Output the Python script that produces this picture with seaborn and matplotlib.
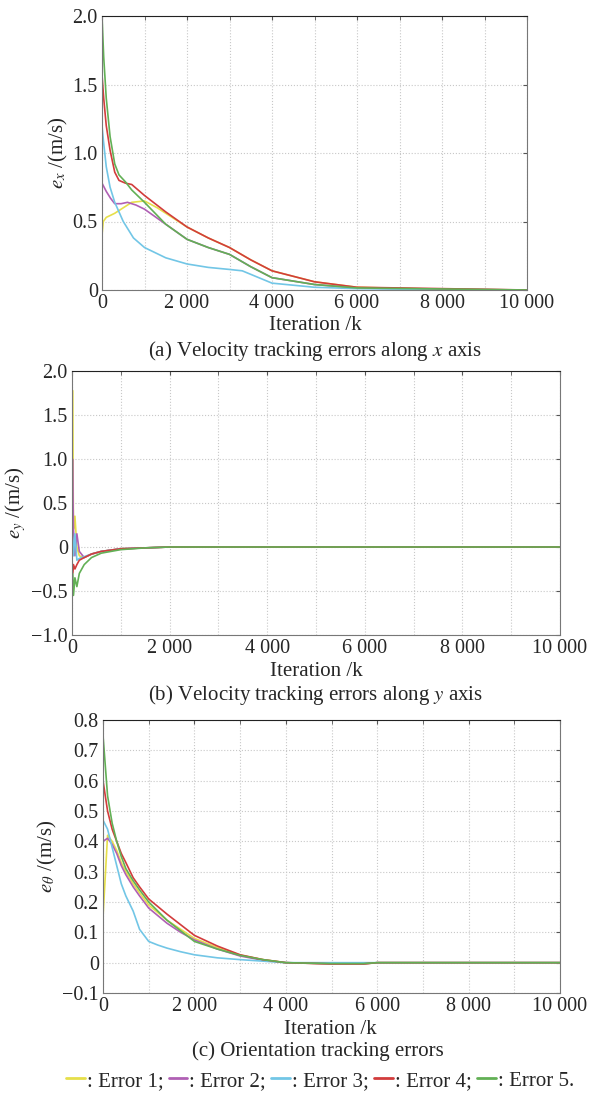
import matplotlib
matplotlib.use("Agg")
import matplotlib.pyplot as plt
import seaborn as sns
import pandas as pd
from matplotlib.lines import Line2D
from matplotlib.ticker import MultipleLocator, FuncFormatter

ERRORS = ["Error 1", "Error 2", "Error 3", "Error 4", "Error 5"]
COLORS = ["#e6df4a", "#b060b4", "#72c6e6", "#d23c3c", "#62b055"]

# (a) velocity error along x
ax_x = {
    "Error 1": [0, 30, 100, 300, 500, 700, 1000, 1300, 1600, 2000, 2500, 3000, 3500, 4000, 5000, 6000, 8000, 10000],
    "Error 2": [0, 100, 200, 300, 450, 600, 800, 1000, 1500, 2000, 2500, 3000, 3500, 4000, 5000, 6000, 8000, 10000],
    "Error 3": [0, 30, 100, 190, 300, 500, 740, 1000, 1500, 2000, 2500, 3000, 3300, 4000, 5000, 6000, 8000, 10000],
    "Error 4": [0, 40, 100, 190, 300, 400, 550, 700, 1000, 1500, 2000, 2500, 3000, 3500, 4000, 5000, 6000, 10000],
    "Error 5": [0, 40, 100, 190, 300, 400, 550, 700, 1000, 1500, 2000, 2500, 3000, 3500, 4000, 5000, 6000, 10000],
}
ay = {
    "Error 1": [0.40, 0.50, 0.53, 0.56, 0.60, 0.64, 0.65, 0.60, 0.54, 0.46, 0.38, 0.31, 0.22, 0.14, 0.06, 0.02, 0.005, 0.0],
    "Error 2": [0.78, 0.72, 0.67, 0.63, 0.63, 0.64, 0.62, 0.59, 0.48, 0.37, 0.31, 0.26, 0.17, 0.09, 0.04, 0.015, 0.005, 0.0],
    "Error 3": [1.20, 1.10, 0.90, 0.75, 0.64, 0.50, 0.38, 0.31, 0.235, 0.19, 0.165, 0.15, 0.14, 0.05, 0.02, 0.01, 0.003, 0.0],
    "Error 4": [1.57, 1.40, 1.20, 1.02, 0.86, 0.80, 0.78, 0.77, 0.69, 0.57, 0.46, 0.38, 0.31, 0.22, 0.14, 0.06, 0.02, 0.0],
    "Error 5": [2.00, 1.70, 1.40, 1.12, 0.92, 0.84, 0.79, 0.73, 0.64, 0.48, 0.37, 0.31, 0.26, 0.17, 0.09, 0.04, 0.015, 0.0],
}

# (b) velocity error along y
bx = [0, 10, 30, 60, 100, 150, 250, 400, 600, 1000, 1500, 2000, 10000]
by = {
    "Error 1": [0.0, 1.78, 0.20, 0.35, 0.0, -0.10, -0.12, -0.08, -0.05, -0.02, -0.01, 0.0, 0.0],
    "Error 2": [0.30, 1.00, 0.20, -0.10, 0.15, -0.05, -0.12, -0.08, -0.05, -0.02, -0.01, 0.0, 0.0],
    "Error 3": [0.20, 0.10, -0.10, 0.15, -0.15, -0.13, -0.11, -0.08, -0.05, -0.02, -0.01, 0.0, 0.0],
    "Error 4": [-0.10, -0.30, -0.20, -0.25, -0.20, -0.15, -0.12, -0.08, -0.05, -0.02, -0.01, 0.0, 0.0],
    "Error 5": [-0.70, -0.30, -0.55, -0.35, -0.45, -0.30, -0.20, -0.12, -0.07, -0.03, -0.01, 0.0, 0.0],
}

# (c) orientation error
cx = [0, 100, 200, 300, 400, 500, 660, 800, 1000, 1200, 1400, 1700, 2000, 2500, 3000, 3500, 4000, 5000, 5700, 6000, 10000]
cy = {
    "Error 1": [0.15, 0.42, 0.40, 0.37, 0.33, 0.30, 0.26, 0.23, 0.19, 0.165, 0.14, 0.11, 0.08, 0.05, 0.025, 0.01, 0.0, -0.004, -0.004, 0.0, 0.0],
    "Error 2": [0.40, 0.41, 0.39, 0.36, 0.32, 0.29, 0.25, 0.22, 0.18, 0.155, 0.13, 0.10, 0.075, 0.045, 0.022, 0.008, 0.0, -0.004, -0.004, 0.0, 0.0],
    "Error 3": [0.47, 0.44, 0.38, 0.32, 0.26, 0.22, 0.17, 0.11, 0.07, 0.058, 0.048, 0.036, 0.026, 0.016, 0.01, 0.005, 0.0, 0.0, 0.0, 0.0, 0.0],
    "Error 4": [0.60, 0.50, 0.44, 0.40, 0.36, 0.33, 0.28, 0.25, 0.21, 0.185, 0.16, 0.125, 0.09, 0.055, 0.026, 0.01, 0.0, -0.004, -0.004, 0.0, 0.0],
    "Error 5": [0.75, 0.55, 0.46, 0.40, 0.35, 0.31, 0.27, 0.24, 0.20, 0.17, 0.14, 0.105, 0.07, 0.045, 0.024, 0.01, 0.0, -0.003, -0.003, 0.0, 0.0],
}


def to_frame(xs, ys):
    rows = []
    for name in ERRORS:
        xv = xs[name] if isinstance(xs, dict) else xs
        for x, y in zip(xv, ys[name]):
            rows.append({"k": x, "e": y, "err": name})
    return pd.DataFrame(rows)


def fmt_num(v, pos):
    if abs(v) < 1e-9:
        return "0"
    return f"{int(v):,}".replace(",", " ")


def fmt_y(v, pos):
    if abs(v) < 1e-9:
        return "0"
    return f"{v:.1f}".replace("-", "\u2212")


sns.set_style("white")
plt.rcParams['font.family'] = ['Liberation Serif', 'DejaVu Serif']
plt.rcParams['mathtext.fontset'] = 'stix'

W, H = 605, 1096
fig = plt.figure(figsize=(W / 100, H / 100), dpi=100)


def box(l, r, t, b):
    return [l / W, 1 - b / H, (r - l) / W, (b - t) / H]


panels = [
    (box(102, 527, 16, 290), ax_x, ay, (0, 2.0), 0.5, r"$e_x$ /(m/s)",
     (315, 325), (315, 351), r"(a) Velocity tracking errors along $x$ axis"),
    (box(72, 560, 371, 635), bx, by, (-1.0, 2.0), 0.5, r"$e_y$ /(m/s)",
     (316, 672), (316, 695), r"(b) Velocity tracking errors along $y$ axis"),
    (box(103, 560, 720, 993), cx, cy, (-0.1, 0.8), 0.1, r"$e_\theta$ /(m/s)",
     (330, 1030), (318, 1051), "(c) Orientation tracking errors"),
]

palette = dict(zip(ERRORS, COLORS))
for rect, xs, ys, ylim, ystep, ylab, xl_pos, cap_pos, cap in panels:
    ax = fig.add_axes(rect)
    df = to_frame(xs, ys)
    sns.lineplot(data=df, x="k", y="e", hue="err", palette=palette, estimator=None,
                 sort=False, lw=1.2, legend=False, ax=ax)
    ax.set_xlim(0, 10000)
    ax.set_ylim(*ylim)
    ax.xaxis.set_major_locator(MultipleLocator(2000))
    ax.xaxis.set_minor_locator(MultipleLocator(1000))
    ax.yaxis.set_major_locator(MultipleLocator(ystep))
    ax.xaxis.set_major_formatter(FuncFormatter(fmt_num))
    ax.yaxis.set_major_formatter(FuncFormatter(fmt_y))
    ax.grid(which="both", axis="x", color="#c8c8c8", ls=":", lw=0.8)
    ax.grid(which="major", axis="y", color="#c8c8c8", ls=":", lw=0.8)
    ax.tick_params(which="both", direction="in", top=True, right=True, length=3,
                   labelsize=14.5, pad=3, color="#555555")
    for s in ax.spines.values():
        s.set_color("#777777")
        s.set_linewidth(0.8)
    ax.spines["top"].set_color("#222222")
    ax.set_xlabel("")
    ax.set_ylabel(ylab, fontsize=15, labelpad=2)
    fig.text(xl_pos[0] / W, 1 - xl_pos[1] / H, "Iteration /k", ha="center", va="center", fontsize=15)
    fig.text(cap_pos[0] / W, 1 - cap_pos[1] / H, cap, ha="center", va="center", fontsize=15)

handles = [Line2D([0], [0], color=c, lw=2) for c in COLORS]
labels = [": Error 1;", ": Error 2;", ": Error 3;", ": Error 4;", ": Error 5."]
fig.legend(handles, labels, loc="center", bbox_to_anchor=(320 / W, 1 - 1081 / H), ncol=5,
           frameon=False, fontsize=15, handlelength=0.9, handletextpad=0.1,
           columnspacing=0.25, borderpad=0)

fig.savefig("out.png", dpi=100)
